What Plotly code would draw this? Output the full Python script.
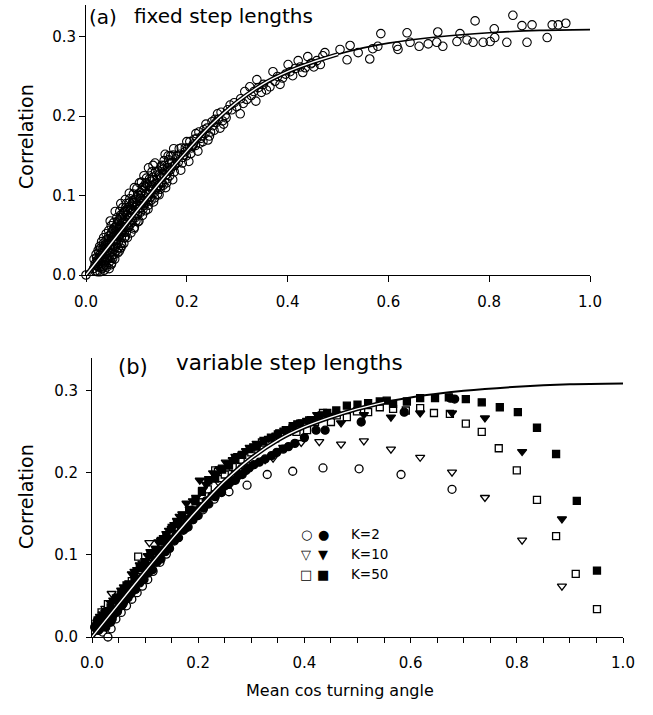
import plotly.graph_objects as go

# ---------------- data ----------------
curve_x = [0.0, 0.05, 0.10, 0.15, 0.20, 0.25, 0.30, 0.35, 0.40, 0.45, 0.50, 0.55, 0.60, 0.70, 0.80, 0.90, 1.00]
curve_y = [0.0, 0.040, 0.080, 0.119, 0.156, 0.190, 0.218, 0.240, 0.256, 0.268, 0.278, 0.286, 0.292, 0.300, 0.305, 0.308, 0.309]

# panel (a): fixed step lengths (open circles)
fixed_pts = [
    (0.0, 0.0),
    (0.015, 0.008), (0.016, 0.020), (0.018, 0.014), (0.020, 0.026), (0.021, 0.005), (0.022, 0.018),
    (0.024, 0.031), (0.025, 0.010), (0.026, 0.022), (0.027, 0.036), (0.028, 0.004), (0.029, 0.015),
    (0.030, 0.028), (0.031, 0.042), (0.032, 0.008), (0.033, 0.020), (0.034, 0.034), (0.035, 0.047),
    (0.036, 0.006), (0.037, 0.013), (0.038, 0.026), (0.039, 0.039), (0.040, 0.052), (0.041, 0.010),
    (0.042, 0.019), (0.043, 0.031), (0.044, 0.045), (0.045, 0.056), (0.046, 0.008), (0.047, 0.024),
    (0.048, 0.037), (0.049, 0.050), (0.050, 0.062), (0.051, 0.015), (0.052, 0.029), (0.053, 0.043),
    (0.054, 0.057), (0.055, 0.066), (0.057, 0.020), (0.058, 0.035), (0.059, 0.049), (0.060, 0.061),
    (0.061, 0.072), (0.063, 0.028), (0.064, 0.041), (0.065, 0.055), (0.066, 0.068), (0.067, 0.080),
    (0.069, 0.034), (0.070, 0.047), (0.071, 0.060), (0.072, 0.073), (0.073, 0.085), (0.075, 0.040),
    (0.076, 0.054), (0.077, 0.066), (0.078, 0.079), (0.080, 0.090), (0.082, 0.047), (0.083, 0.060),
    (0.084, 0.072), (0.085, 0.085), (0.087, 0.096), (0.089, 0.053), (0.090, 0.066), (0.091, 0.078),
    (0.092, 0.091), (0.094, 0.102), (0.096, 0.060), (0.097, 0.072), (0.098, 0.085), (0.100, 0.097),
    (0.101, 0.109), (0.103, 0.067), (0.105, 0.080), (0.106, 0.092), (0.108, 0.104), (0.110, 0.117),
    (0.112, 0.075), (0.114, 0.087), (0.116, 0.099), (0.118, 0.111), (0.120, 0.122), (0.123, 0.083),
    (0.125, 0.095), (0.127, 0.107), (0.129, 0.118), (0.131, 0.130), (0.134, 0.092), (0.136, 0.104),
    (0.138, 0.115), (0.140, 0.126), (0.137, 0.141), (0.145, 0.101), (0.148, 0.112), (0.150, 0.123),
    (0.152, 0.133), (0.155, 0.144), (0.158, 0.110), (0.161, 0.121), (0.163, 0.131), (0.166, 0.141),
    (0.168, 0.150), (0.172, 0.120), (0.175, 0.130), (0.178, 0.140), (0.181, 0.150), (0.185, 0.159),
    (0.188, 0.132), (0.191, 0.141), (0.194, 0.151), (0.197, 0.160), (0.200, 0.168), (0.204, 0.143),
    (0.208, 0.153), (0.211, 0.162), (0.215, 0.171), (0.218, 0.178), (0.222, 0.156), (0.226, 0.166),
    (0.230, 0.175), (0.234, 0.183), (0.238, 0.190), (0.242, 0.170), (0.247, 0.180), (0.252, 0.188),
    (0.256, 0.196), (0.261, 0.203), (0.266, 0.185), (0.271, 0.194), (0.276, 0.201), (0.281, 0.208),
    (0.286, 0.214), (0.289, 0.208), (0.294, 0.217), (0.299, 0.212), (0.306, 0.203), (0.307, 0.222),
    (0.312, 0.216), (0.315, 0.231), (0.319, 0.221), (0.325, 0.237), (0.328, 0.226), (0.333, 0.231),
    (0.337, 0.219), (0.339, 0.246), (0.342, 0.236), (0.348, 0.230), (0.352, 0.240), (0.358, 0.233),
    (0.365, 0.237), (0.371, 0.256), (0.375, 0.244), (0.380, 0.250), (0.385, 0.240), (0.390, 0.248),
    (0.396, 0.253), (0.401, 0.265), (0.405, 0.256), (0.410, 0.251), (0.415, 0.260), (0.421, 0.270),
    (0.425, 0.262), (0.430, 0.255), (0.435, 0.261), (0.440, 0.275), (0.446, 0.266), (0.448, 0.267),
    (0.452, 0.262), (0.458, 0.270), (0.465, 0.265), (0.470, 0.276), (0.474, 0.280), (0.504, 0.284),
    (0.524, 0.289), (0.518, 0.271), (0.540, 0.280), (0.563, 0.272), (0.569, 0.285), (0.579, 0.288),
    (0.585, 0.304), (0.617, 0.288), (0.619, 0.284), (0.637, 0.305), (0.643, 0.293), (0.661, 0.288),
    (0.679, 0.291), (0.698, 0.306), (0.696, 0.293), (0.708, 0.288), (0.736, 0.294), (0.742, 0.304),
    (0.756, 0.296), (0.772, 0.320), (0.768, 0.293), (0.788, 0.293), (0.802, 0.294), (0.810, 0.310),
    (0.811, 0.299), (0.835, 0.293), (0.847, 0.327), (0.865, 0.314), (0.875, 0.293), (0.885, 0.315),
    (0.915, 0.299), (0.925, 0.315), (0.937, 0.315), (0.952, 0.317),
    (0.018, 0.005), (0.023, 0.012), (0.027, 0.025), (0.031, 0.018), (0.034, 0.010), (0.038, 0.018),
    (0.040, 0.034), (0.043, 0.040), (0.046, 0.016), (0.048, 0.028), (0.050, 0.022), (0.052, 0.047),
    (0.054, 0.036), (0.056, 0.026), (0.058, 0.055), (0.060, 0.040), (0.062, 0.064), (0.064, 0.034),
    (0.066, 0.050), (0.068, 0.075), (0.070, 0.040), (0.072, 0.055), (0.074, 0.068), (0.076, 0.080),
    (0.078, 0.048), (0.056, 0.044), (0.062, 0.050), (0.068, 0.058), (0.074, 0.061), (0.079, 0.067),
    (0.081, 0.076), (0.086, 0.072), (0.088, 0.083), (0.093, 0.080), (0.095, 0.091), (0.099, 0.075),
    (0.102, 0.088), (0.104, 0.100), (0.107, 0.084), (0.109, 0.096), (0.111, 0.106), (0.113, 0.092),
    (0.115, 0.112), (0.117, 0.090), (0.119, 0.103), (0.121, 0.114), (0.124, 0.102), (0.126, 0.121),
    (0.128, 0.098), (0.130, 0.112), (0.132, 0.123), (0.133, 0.138), (0.135, 0.114), (0.139, 0.108),
    (0.141, 0.120), (0.143, 0.131), (0.144, 0.113), (0.147, 0.124), (0.149, 0.136), (0.151, 0.116),
    (0.153, 0.127), (0.156, 0.138), (0.157, 0.152), (0.159, 0.126), (0.162, 0.135), (0.164, 0.145),
    (0.167, 0.132), (0.170, 0.142), (0.173, 0.151), (0.174, 0.159), (0.176, 0.138), (0.179, 0.146),
    (0.183, 0.142), (0.186, 0.152), (0.189, 0.160), (0.192, 0.148), (0.196, 0.155), (0.199, 0.150),
    (0.202, 0.160), (0.206, 0.168), (0.209, 0.160), (0.213, 0.165), (0.217, 0.163), (0.220, 0.172),
    (0.224, 0.180), (0.228, 0.172), (0.232, 0.168), (0.236, 0.178), (0.240, 0.185), (0.245, 0.175),
    (0.250, 0.193), (0.254, 0.182), (0.258, 0.192), (0.263, 0.196), (0.268, 0.205), (0.273, 0.190),
    (0.278, 0.198),
    (0.019, 0.012), (0.021, 0.022), (0.023, 0.004), (0.024, 0.017), (0.026, 0.029), (0.028, 0.010),
    (0.029, 0.034), (0.030, 0.021), (0.032, 0.014), (0.033, 0.027), (0.035, 0.040), (0.036, 0.022),
    (0.037, 0.032), (0.039, 0.012), (0.040, 0.044), (0.041, 0.027), (0.042, 0.037), (0.044, 0.021),
    (0.045, 0.049), (0.047, 0.033), (0.049, 0.043), (0.050, 0.013), (0.051, 0.054), (0.053, 0.021),
    (0.054, 0.049), (0.055, 0.032), (0.057, 0.060), (0.058, 0.043), (0.060, 0.030), (0.061, 0.052),
    (0.063, 0.068), (0.064, 0.048), (0.066, 0.030), (0.067, 0.060), (0.069, 0.072), (0.070, 0.052),
    (0.071, 0.037), (0.073, 0.066), (0.074, 0.078), (0.076, 0.047), (0.077, 0.060), (0.079, 0.085),
    (0.080, 0.054), (0.082, 0.069), (0.083, 0.082), (0.085, 0.060), (0.086, 0.091), (0.088, 0.064),
    (0.089, 0.078), (0.091, 0.088), (0.092, 0.069), (0.094, 0.082), (0.095, 0.058), (0.097, 0.095),
    (0.099, 0.068), (0.100, 0.088), (0.102, 0.076), (0.103, 0.102), (0.105, 0.068), (0.107, 0.097),
    (0.108, 0.079), (0.110, 0.090), (0.112, 0.110), (0.113, 0.083), (0.116, 0.094), (0.118, 0.081),
    (0.119, 0.116), (0.122, 0.097), (0.124, 0.088), (0.126, 0.112), (0.129, 0.094), (0.131, 0.108),
    (0.133, 0.120), (0.136, 0.097), (0.138, 0.130), (0.140, 0.110), (0.142, 0.102), (0.145, 0.126),
    (0.147, 0.108), (0.150, 0.138), (0.153, 0.113), (0.156, 0.131), (0.160, 0.116), (0.163, 0.150),
    (0.166, 0.125), (0.170, 0.136),
    (0.048, 0.068), (0.058, 0.080), (0.069, 0.090), (0.078, 0.095), (0.086, 0.103), (0.096, 0.110),
    (0.106, 0.116), (0.115, 0.125), (0.124, 0.135),
]

# panel (b): variable step lengths
k2_open = [
    (0.008, 0.010), (0.015, 0.022), (0.020, 0.006), (0.025, 0.015), (0.030, 0.000), (0.036, 0.010),
    (0.045, 0.022), (0.055, 0.030), (0.065, 0.038), (0.075, 0.046), (0.085, 0.054), (0.095, 0.062),
    (0.105, 0.070), (0.115, 0.080), (0.128, 0.091), (0.140, 0.101), (0.158, 0.120), (0.175, 0.132),
    (0.190, 0.143), (0.209, 0.155), (0.230, 0.168), (0.258, 0.177), (0.292, 0.185), (0.330, 0.198),
    (0.378, 0.202), (0.435, 0.206), (0.503, 0.205), (0.582, 0.198), (0.678, 0.180),
]
k2_filled = [
    (0.005, 0.012), (0.010, 0.020), (0.012, 0.008), (0.018, 0.016), (0.022, 0.026), (0.026, 0.012),
    (0.030, 0.022), (0.035, 0.018), (0.040, 0.027), (0.045, 0.030), (0.050, 0.036), (0.056, 0.038),
    (0.062, 0.045), (0.068, 0.048), (0.075, 0.055), (0.082, 0.058), (0.090, 0.066), (0.098, 0.070),
    (0.106, 0.078), (0.114, 0.082), (0.122, 0.091), (0.130, 0.095), (0.138, 0.104), (0.146, 0.108),
    (0.155, 0.117), (0.163, 0.121), (0.172, 0.130), (0.181, 0.134), (0.190, 0.143), (0.200, 0.148),
    (0.210, 0.157), (0.220, 0.162), (0.232, 0.171), (0.244, 0.176), (0.257, 0.186), (0.270, 0.191),
    (0.283, 0.198), (0.296, 0.206), (0.315, 0.213), (0.338, 0.221), (0.360, 0.229), (0.382, 0.236),
    (0.422, 0.252), (0.439, 0.252), (0.507, 0.262), (0.588, 0.274), (0.675, 0.291), (0.683, 0.290),
    (0.008, 0.015), (0.015, 0.010), (0.028, 0.017), (0.038, 0.022), (0.048, 0.031), (0.053, 0.040),
    (0.059, 0.041), (0.065, 0.051), (0.072, 0.052), (0.079, 0.060), (0.086, 0.067), (0.094, 0.072),
    (0.102, 0.080), (0.110, 0.086), (0.118, 0.093), (0.126, 0.100), (0.134, 0.106), (0.142, 0.113),
    (0.150, 0.119), (0.159, 0.125), (0.168, 0.132), (0.177, 0.140), (0.186, 0.146), (0.195, 0.153),
    (0.205, 0.159), (0.215, 0.166), (0.226, 0.172), (0.238, 0.178), (0.250, 0.184), (0.263, 0.190),
    (0.276, 0.197), (0.290, 0.203), (0.305, 0.210), (0.326, 0.217), (0.348, 0.225), (0.370, 0.232),
    (0.400, 0.243),
]
k10_open = [
    (0.012, 0.022), (0.025, 0.035), (0.037, 0.053), (0.050, 0.043), (0.062, 0.055), (0.075, 0.062),
    (0.088, 0.075), (0.100, 0.082), (0.108, 0.115), (0.120, 0.098), (0.135, 0.110), (0.150, 0.121),
    (0.165, 0.133), (0.180, 0.145), (0.195, 0.157), (0.210, 0.166), (0.225, 0.176), (0.240, 0.187),
    (0.255, 0.194), (0.270, 0.201), (0.285, 0.207), (0.305, 0.210), (0.326, 0.216), (0.341, 0.218),
    (0.360, 0.231), (0.394, 0.237), (0.428, 0.238), (0.469, 0.235), (0.512, 0.239), (0.563, 0.229),
    (0.618, 0.219), (0.678, 0.201), (0.740, 0.170), (0.810, 0.118), (0.885, 0.062),
]
k10_filled = [
    (0.010, 0.018), (0.020, 0.028), (0.030, 0.033), (0.040, 0.045), (0.050, 0.050), (0.060, 0.061),
    (0.070, 0.066), (0.075, 0.077), (0.085, 0.082), (0.095, 0.090), (0.105, 0.099), (0.115, 0.104),
    (0.125, 0.116), (0.135, 0.121), (0.145, 0.130), (0.155, 0.137), (0.165, 0.147), (0.178, 0.163),
    (0.190, 0.166), (0.203, 0.191), (0.215, 0.186), (0.228, 0.200), (0.240, 0.205), (0.252, 0.213),
    (0.265, 0.216), (0.275, 0.221), (0.290, 0.227), (0.305, 0.233), (0.315, 0.235), (0.326, 0.240),
    (0.340, 0.244), (0.354, 0.250), (0.370, 0.253), (0.388, 0.261), (0.405, 0.264), (0.424, 0.271),
    (0.445, 0.270), (0.469, 0.261), (0.512, 0.271), (0.563, 0.268), (0.618, 0.273), (0.678, 0.273),
    (0.740, 0.267), (0.810, 0.226), (0.885, 0.144),
    (0.015, 0.025), (0.025, 0.030), (0.035, 0.042), (0.045, 0.046), (0.055, 0.057), (0.065, 0.060),
    (0.080, 0.080), (0.090, 0.088), (0.100, 0.093), (0.110, 0.104), (0.120, 0.108), (0.130, 0.118),
    (0.140, 0.126), (0.150, 0.132), (0.160, 0.142), (0.170, 0.150), (0.184, 0.156), (0.196, 0.170),
    (0.209, 0.180), (0.221, 0.190), (0.234, 0.198), (0.246, 0.207), (0.258, 0.212), (0.270, 0.220),
    (0.283, 0.223), (0.297, 0.231), (0.310, 0.236), (0.333, 0.242), (0.347, 0.246), (0.362, 0.252),
    (0.379, 0.256), (0.396, 0.262), (0.414, 0.266), (0.434, 0.272),
]
k50_open = [
    (0.018, 0.030), (0.030, 0.040), (0.045, 0.045), (0.060, 0.058), (0.075, 0.068), (0.087, 0.098),
    (0.100, 0.085), (0.115, 0.097), (0.130, 0.108), (0.145, 0.120), (0.160, 0.130), (0.175, 0.142),
    (0.190, 0.153), (0.205, 0.164), (0.218, 0.180), (0.232, 0.203), (0.237, 0.201), (0.250, 0.198),
    (0.265, 0.207), (0.280, 0.216), (0.300, 0.225), (0.320, 0.237), (0.345, 0.242), (0.367, 0.250),
    (0.385, 0.250), (0.405, 0.252), (0.420, 0.262), (0.435, 0.273), (0.450, 0.262), (0.461, 0.270),
    (0.480, 0.268), (0.499, 0.275), (0.520, 0.274), (0.542, 0.280), (0.567, 0.278), (0.591, 0.276),
    (0.618, 0.279), (0.644, 0.273), (0.674, 0.272), (0.704, 0.260), (0.734, 0.250), (0.766, 0.230),
    (0.800, 0.203), (0.838, 0.167), (0.874, 0.123), (0.911, 0.077), (0.951, 0.034),
]
k50_filled = [
    (0.015, 0.020), (0.025, 0.030), (0.035, 0.036), (0.045, 0.047), (0.055, 0.052), (0.065, 0.063),
    (0.080, 0.072), (0.090, 0.084), (0.100, 0.088), (0.110, 0.100), (0.120, 0.106), (0.130, 0.117),
    (0.140, 0.122), (0.150, 0.133), (0.160, 0.138), (0.170, 0.148), (0.183, 0.155), (0.195, 0.166),
    (0.207, 0.177), (0.219, 0.191), (0.232, 0.193), (0.245, 0.204), (0.258, 0.209), (0.270, 0.217),
    (0.283, 0.222), (0.297, 0.229), (0.310, 0.232), (0.323, 0.239), (0.337, 0.243), (0.350, 0.247),
    (0.365, 0.252), (0.378, 0.257), (0.392, 0.260), (0.409, 0.264), (0.426, 0.268), (0.443, 0.273),
    (0.460, 0.276), (0.480, 0.282), (0.500, 0.283), (0.520, 0.285), (0.542, 0.287), (0.555, 0.288),
    (0.567, 0.284), (0.593, 0.287), (0.618, 0.291), (0.646, 0.291), (0.672, 0.292), (0.704, 0.290),
    (0.734, 0.286), (0.768, 0.280), (0.802, 0.274), (0.838, 0.255), (0.874, 0.223), (0.913, 0.166),
    (0.951, 0.081),
]

x_ticks = [0.0, 0.2, 0.4, 0.6, 0.8, 1.0]
y_ticks = [0.0, 0.1, 0.2, 0.3]
legend_labels = ["K=2", "K=10", "K=50"]
legend_open = ["○", "▽", "□"]
legend_filled = ["●", "▼", "■"]

# ---------------- figure ----------------
W, H = 653, 715
FONT = "DejaVu Sans"


def fx(px):
    return px / W


def fy(py):
    return 1 - py / H


def xs(p):
    return [a for a, _ in p]


def ys(p):
    return [b for _, b in p]


fig = go.Figure()

# panel (a)
fig.add_trace(go.Scatter(x=xs(fixed_pts), y=ys(fixed_pts), mode="markers", xaxis="x", yaxis="y",
                         marker=dict(symbol="circle-open", size=8.5, color="black", line=dict(width=1.1)),
                         cliponaxis=False, showlegend=False))
cut_a = curve_x.index(0.50) + 1
spline = dict(shape="spline", smoothing=0.8)
fig.add_trace(go.Scatter(x=curve_x, y=curve_y, mode="lines", xaxis="x", yaxis="y",
                         line=dict(color="black", width=1.6, **spline), showlegend=False))
fig.add_trace(go.Scatter(x=curve_x[:cut_a], y=curve_y[:cut_a], mode="lines", xaxis="x", yaxis="y",
                         line=dict(color="black", width=4.2, **spline), showlegend=False))
fig.add_trace(go.Scatter(x=curve_x[:cut_a], y=curve_y[:cut_a], mode="lines", xaxis="x", yaxis="y",
                         line=dict(color="white", width=1.4, **spline), showlegend=False))

# panel (b)
series_b = [
    (k2_open, "circle", "white", 8),
    (k10_open, "triangle-down", "white", 8),
    (k50_open, "square", "white", 7),
    (k2_filled, "circle", "black", 8),
    (k10_filled, "triangle-down", "black", 8),
    (k50_filled, "square", "black", 7),
]
for pts, sym, fill, size in series_b:
    fig.add_trace(go.Scatter(x=xs(pts), y=ys(pts), mode="markers", xaxis="x2", yaxis="y2",
                             marker=dict(symbol=sym, size=size, color=fill,
                                         line=dict(color="black", width=1.3)),
                             cliponaxis=False, showlegend=False))
cut_b = curve_x.index(0.55) + 1
fig.add_trace(go.Scatter(x=curve_x, y=curve_y, mode="lines", xaxis="x2", yaxis="y2",
                         line=dict(color="black", width=2, **spline), showlegend=False))
fig.add_trace(go.Scatter(x=curve_x[:cut_b], y=curve_y[:cut_b], mode="lines", xaxis="x2", yaxis="y2",
                         line=dict(color="black", width=4.4, **spline), showlegend=False))
fig.add_trace(go.Scatter(x=curve_x[:cut_b], y=curve_y[:cut_b], mode="lines", xaxis="x2", yaxis="y2",
                         line=dict(color="white", width=1.4, **spline), showlegend=False))

axis_common = dict(showline=True, linecolor="black", linewidth=1, ticks="outside", tickcolor="black",
                   tickwidth=1, showgrid=False, zeroline=False, tickformat=".1f", automargin=False,
                   tickfont=dict(family=FONT, size=15, color="black"))

fig.update_layout(
    width=W, height=H, margin=dict(l=0, r=0, t=0, b=0, pad=0, autoexpand=False),
    paper_bgcolor="white", plot_bgcolor="white", showlegend=False,
    xaxis=dict(domain=[fx(86), fx(590)], range=[0, 1], tickvals=x_ticks, ticklen=6,
               ticklabelstandoff=7, anchor="y", **axis_common),
    yaxis=dict(domain=[fy(275), fy(5)], range=[0, 0.34], tickvals=y_ticks, ticklen=6,
               anchor="x", **axis_common),
    xaxis2=dict(domain=[fx(92), fx(623)], range=[0, 1], tickvals=x_ticks, ticklen=5,
                ticklabelstandoff=7, anchor="y2",
                minor=dict(dtick=0.05, tick0=0, ticks="outside", ticklen=5, tickcolor="black"),
                **axis_common),
    yaxis2=dict(domain=[fy(637), fy(358)], range=[0, 0.34], tickvals=y_ticks, ticklen=5,
                ticklabelstandoff=5, anchor="x2", **axis_common),
)


def ann(text, x, y, size, xanchor="left", yanchor="middle", angle=0):
    fig.add_annotation(text=text, x=fx(x), y=fy(y), xref="paper", yref="paper",
                       xanchor=xanchor, yanchor=yanchor, showarrow=False, textangle=angle,
                       font=dict(family=FONT, size=size, color="black"))


ann("(a)", 87, 17, 20)
ann("fixed step lengths", 132, 16, 20)
ann("(b)", 116, 367, 21)
ann("variable step lengths", 174, 362, 21.5)
ann("Correlation", 26, 137, 19, xanchor="center", angle=-90)
ann("Correlation", 26, 497, 19, xanchor="center", angle=-90)
ann("Mean cos turning angle", 340, 690, 16, xanchor="center")

leg_y = [534, 554, 574]
for lab, so, sf, yy in zip(legend_labels, legend_open, legend_filled, leg_y):
    ann(so, 306, yy, 13, xanchor="center")
    ann(sf, 323, yy, 13, xanchor="center")
    ann(lab, 349, yy, 13.5)

# remove the default page margin so the figure sits at the window's top-left corner
fig.write_html("out.html", config={"displayModeBar": False},
               post_script="document.body.style.margin='0px';")
